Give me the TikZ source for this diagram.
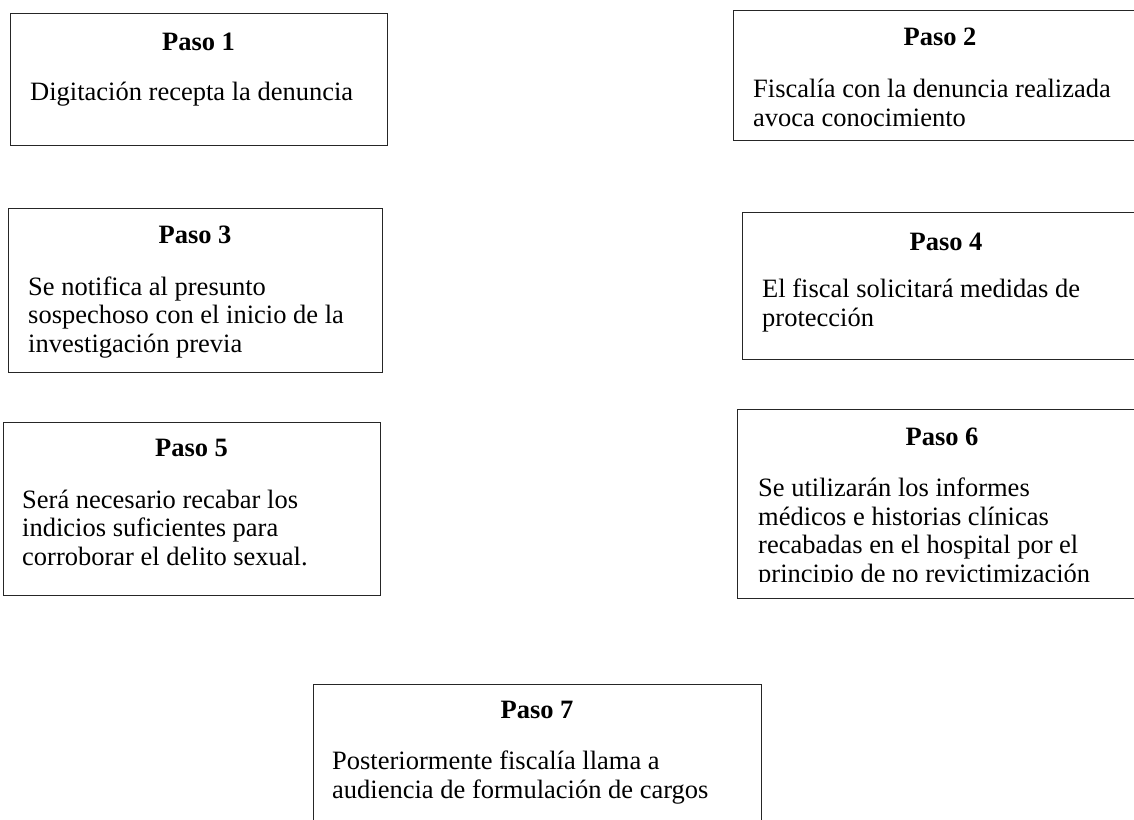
\documentclass[tikz,border=0pt]{standalone}
\usepackage{fontspec}
\setmainfont{Liberation Serif}
\tikzset{
  stepbox/.style={draw=black!85, line width=1.2pt, inner sep=0pt, anchor=north west},
  steptitle/.style={font=\fontsize{26.5}{29}\selectfont\bfseries, anchor=base, inner sep=0pt},
  stepbody/.style={font=\fontsize{26.5}{28.5}\selectfont, anchor=base west, align=left, inner sep=0pt},
}
\begin{document}
\begin{tikzpicture}[x=1pt,y=-1pt]
\useasboundingbox (0,0) rectangle (1134,819);
\clip (0,0) rectangle (1134,819);
% Paso 1
\node[stepbox, minimum width=377pt, minimum height=132pt] (b1) at (10,13) {};
\node[steptitle] (t1) at (198.5,50) {Paso 1};
\node[stepbody] (d1) at (30,100) {Digitación recepta la denuncia};
% Paso 2 (body anchor = baseline of last line)
\node[stepbox, minimum width=414pt, minimum height=130pt] (b2) at (733,10) {};
\node[steptitle] (t2) at (940,45) {Paso 2};
\node[stepbody] (d2) at (753,126) {Fiscalía con la denuncia realizada\\avoca conocimiento};
% Paso 3
\node[stepbox, minimum width=374pt, minimum height=164pt] (b3) at (8,207.5) {};
\node[steptitle] (t3) at (195,243) {Paso 3};
\node[stepbody] (d3) at (28,352) {Se notifica al presunto\\sospechoso con el inicio de la\\investigación previa};
% Paso 4
\node[stepbox, minimum width=408pt, minimum height=147pt] (b4) at (742,212) {};
\node[steptitle] (t4) at (946,250) {Paso 4};
\node[stepbody] (d4) at (762,326) {El fiscal solicitará medidas de\\protección};
% Paso 5
\node[stepbox, minimum width=377pt, minimum height=173pt] (b5) at (3,422) {};
\node[steptitle] (t5) at (191.5,456) {Paso 5};
\node[stepbody] (d5) at (22,565) {Será necesario recabar los\\indicios suficientes para\\corroborar el delito sexual.};
% Paso 6
\node[stepbox, minimum width=410pt, minimum height=189pt] (b6) at (737,409) {};
\node[steptitle] (t6) at (942,445) {Paso 6};
\begin{scope}
\clip (737,409) rectangle (1134,581.5);
\node[stepbody] (d6) at (758,582) {Se utilizarán los informes\\médicos e historias clínicas\\recabadas en el hospital por el\\principio de no revictimización};
\end{scope}
% Paso 7
\node[stepbox, minimum width=448pt, minimum height=150pt] (b7) at (313,684) {};
\node[steptitle] (t7) at (537,718) {Paso 7};
\node[stepbody] (d7) at (332,798) {Posteriormente fiscalía llama a\\audiencia de formulación de cargos};
\end{tikzpicture}
\end{document}
